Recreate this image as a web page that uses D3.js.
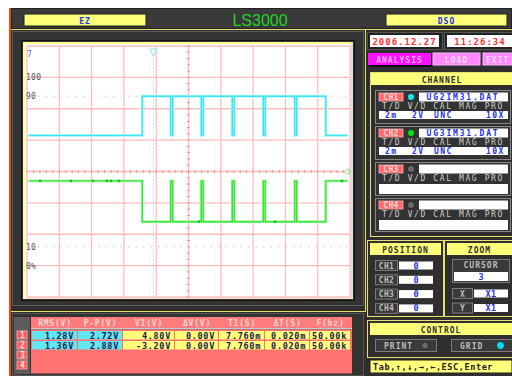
<!DOCTYPE html>
<html>
<head>
<meta charset="utf-8">
<script src="https://cdn.jsdelivr.net/npm/d3@7"></script>
<style>
  html, body { margin: 0; padding: 0; background: #fff; overflow: hidden; }
  svg { display: block; }
</style>
</head>
<body>
<svg id="scope" width="512" height="376"></svg>
<script>
// ---- Data -------------------------------------------------------------
const timeDomain = [-10, 10];   // ms, 2 ms/div over 10 divisions
const voltDomain = [-8, 8];     // V, 2 V/div over 8 divisions
const timeGrid = d3.range(-10, 10.001, 2);
const voltGrid = d3.range(-8, 8.001, 2);

// CH1 (cyan) step waveform: edge times (ms) and level held from each edge (V)
const ch1Time = [-9.9, -2.86, -1.10, -0.98, 0.79, 0.91, 2.71, 2.83, 4.63, 4.75, 6.58, 6.70, 8.50, 9.85];
const ch1Volt = [2.3, 4.8, 2.3, 4.8, 2.3, 4.8, 2.3, 4.8, 2.3, 4.8, 2.3, 4.8, 2.3, 2.3];
// CH2 (green) step waveform
const ch2Time = [-9.9, -2.86, -1.10, -0.98, 0.79, 0.91, 2.71, 2.83, 4.63, 4.75, 6.58, 6.70, 8.50, 9.85];
const ch2Volt = [-0.6, -3.2, -0.6, -3.2, -0.6, -3.2, -0.6, -3.2, -0.6, -3.2, -0.6, -3.2, -0.6, -0.6];
// sample markers drawn on the CH2 trace [ms, V]
const ch2Marks = [[-9.19, -0.6], [-7.28, -0.6], [-5.91, -0.6], [-5.05, -0.6], [-4.80, -0.6], [-4.30, -0.6], [0.65, -3.2], [5.36, -3.2], [9.50, -0.6]];

const triggerTime = -2.18;      // ms, cyan trigger cursor
const pctTicks = [100, 90, 10, 0];
const pctLabels = ["100", "90", "10", "0%"];

const measHeaders = ["RMS(V)", "P-P(V)", "V1(V)", "\u0394V(V)", "T1(S)", "\u0394T(S)", "F(hz)"];
const measCh1 = ["1.28V", "2.72V", "4.80V", "0.00V", "7.760m", "0.020m", "50.00k"];
const measCh2 = ["1.36V", "2.88V", "-3.20V", "0.00V", "7.760m", "0.020m", "50.00k"];
const measRows = ["1", "2", "3", "4"];

const channelNames = ["CH1", "CH2", "CH3", "CH4"];
const channelFiles = ["UG2IM31.DAT", "UG3IM31.DAT", "", ""];
const channelSettings = [["2m", "2V", "UNC", "10X"], ["2m", "2V", "UNC", "10X"], null, null];
const channelLeds = ["#20e4f0", "#10dd10", "#6a6a6a", "#6a6a6a"];
const settingHeads = "T/D V/D CAL MAG PRO";
const positionValues = ["0", "0", "0", "0"];
const zoomCursor = "3";
const zoomXY = [["X", "X1"], ["Y", "X1"]];
const dateText = "2006.12.27";
const timeText = "11:26:34";
const keyHelp = "Tab,\u2191,\u2193,\u2192,\u2190,ESC,Enter";

// ---- Palette / helpers --------------------------------------------------
const C = {
  bg: "#2f2f2f", yellow: "#ffff7a", yline: "#e6e070", grid: "#ffbcbc",
  gridDark: "#f29090", cyan: "#3fe6f2", green: "#3ae23a", blue: "#2030f0",
  red: "#ff3030", pink: "#ff7272", boxStroke: "#7a7a7a", gray: "#cfcfcf"
};
const MONO = "'DejaVu Sans Mono', 'Liberation Mono', monospace";

const svg = d3.select("#scope");

function rect(g, x, y, w, h, fill, stroke, sw) {
  return g.append("rect").attr("x", x).attr("y", y).attr("width", w).attr("height", h)
    .attr("fill", fill).attr("stroke", stroke || "none").attr("stroke-width", sw || 1);
}
function label(g, x, y, s, fill, o = {}) {
  return g.append("text").attr("x", x).attr("y", y).text(s)
    .attr("fill", fill)
    .attr("font-family", o.family || MONO)
    .attr("font-weight", o.weight || "bold")
    .attr("font-size", o.size || 9)
    .attr("letter-spacing", o.ls == null ? 1 : o.ls)
    .attr("text-anchor", o.anchor || "middle");
}

// ---- Window background ---------------------------------------------------
rect(svg, 11, 8, 501, 368, C.bg);
rect(svg, 9, 8, 2, 368, "#f04a10");

// title bar
rect(svg, 11.5, 8.5, 500, 20, "#3a3a3a", "#222");
rect(svg, 24, 14, 122, 12, C.yellow, "#1e1e1e");
label(svg, 85, 23.5, "EZ", C.blue, { size: 8 });
rect(svg, 386, 14, 121, 12, C.yellow, "#1e1e1e");
label(svg, 446.5, 23.5, "DSO", C.blue, { size: 8 });
label(svg, 260, 26, "LS3000", "#22d422", { family: "'Liberation Sans', Arial, sans-serif", weight: "normal", size: 16, ls: 0 });
svg.append("line").attr("x1", 11).attr("x2", 512).attr("y1", 29.5).attr("y2", 29.5).attr("stroke", C.yline);

// ---- Waveform display ----------------------------------------------------
const plot = svg.append("g");
rect(plot, 12.5, 31.5, 351, 274, "#333", "#5a5a5a");
rect(plot, 21.5, 40.5, 333, 260, "none", "#141414");
rect(plot, 23, 42, 330, 257, "#fff");
rect(plot, 23, 42, 2, 257, "#ffff90");
rect(plot, 23, 42, 330, 2, "#ffff90");
rect(plot, 351, 42, 2, 257, "#dcdcdc");
rect(plot, 23, 297.5, 330, 1.5, "#ecebc8");

const x = d3.scaleLinear().domain(timeDomain).range([27, 350]);
const y = d3.scaleLinear().domain(voltDomain).range([297, 46]);
const pct = d3.scaleLinear().domain([0, 100]).range([y(-6), y(6)]);

// graticule
plot.append("g").selectAll("line").data(timeGrid).join("line")
  .attr("x1", d => x(d)).attr("x2", d => x(d)).attr("y1", y(8)).attr("y2", y(-8))
  .attr("stroke", C.grid).attr("stroke-width", 1.3);
plot.append("g").selectAll("line").data(voltGrid).join("line")
  .attr("x1", x(-10)).attr("x2", x(10)).attr("y1", d => y(d)).attr("y2", d => y(d))
  .attr("stroke", C.grid).attr("stroke-width", 1.3);

// minor ticks along the centre axes
plot.append("g").selectAll("line").data(d3.range(-10, 10.001, 0.4)).join("line")
  .attr("x1", d => x(d)).attr("x2", d => x(d)).attr("y1", y(0) - 1.5).attr("y2", y(0) + 1.5)
  .attr("stroke", C.gridDark).attr("stroke-width", 1);
plot.append("g").selectAll("line").data(d3.range(-8, 8.001, 0.4)).join("line")
  .attr("x1", x(0) - 1.5).attr("x2", x(0) + 1.5).attr("y1", d => y(d)).attr("y2", d => y(d))
  .attr("stroke", C.gridDark).attr("stroke-width", 1);

// 90 % / 10 % reference lines
plot.append("g").selectAll("line").data([90, 10]).join("line")
  .attr("x1", 38).attr("x2", x(10)).attr("y1", d => pct(d)).attr("y2", d => pct(d))
  .attr("stroke", "#e2b4b4").attr("stroke-width", 1).attr("stroke-dasharray", "1.5,6");

// percentage labels
plot.append("g").selectAll("text").data(pctTicks).join("text")
  .attr("x", 26).attr("y", d => pct(d) + 3)
  .text((d, i) => pctLabels[i])
  .attr("fill", "#555").attr("font-family", MONO).attr("font-size", 8).attr("letter-spacing", 0.3);

label(plot, 27, 57, "7", "#5060ff", { size: 8, anchor: "start", weight: "normal" });

// trigger cursor
plot.append("line").attr("x1", x(triggerTime)).attr("x2", x(triggerTime)).attr("y1", y(8)).attr("y2", y(-8))
  .attr("stroke", "#a8eef4").attr("stroke-width", 1).attr("stroke-dasharray", "1.5,2");
plot.append("path")
  .attr("d", `M${x(triggerTime) - 3.5},49 L${x(triggerTime) + 3.5},49 L${x(triggerTime)},56 Z`)
  .attr("fill", "#fff").attr("stroke", "#7fe8f0").attr("stroke-width", 1);

// traces
const trace = (times, volts) => d3.line().curve(d3.curveStepAfter)
  .x((d, i) => x(times[i])).y((d, i) => y(volts[i]))(times);

[[ch1Time, ch1Volt, C.cyan, "#b8f6fa"], [ch2Time, ch2Volt, C.green, "#b8f6b8"]].forEach(([t, v, col, glow]) => {
  plot.append("path").attr("d", trace(t, v)).attr("fill", "none")
    .attr("stroke", glow).attr("stroke-width", 3);
  plot.append("path").attr("d", trace(t, v)).attr("fill", "none")
    .attr("stroke", col).attr("stroke-width", 1.4);
});
plot.append("g").selectAll("rect").data(ch2Marks).join("rect")
  .attr("x", d => x(d[0]) - 1.2).attr("y", d => y(d[1]) - 1.2)
  .attr("width", 2.4).attr("height", 2.4).attr("fill", "#16c016");

// channel-2 level marker on the right edge
plot.append("path")
  .attr("d", `M${x(10) - 1},${y(0) - 3} L${x(10) - 6},${y(0)} L${x(10) - 1},${y(0) + 3} Z`)
  .attr("fill", "#fff").attr("stroke", "#8fe88f").attr("stroke-width", 1);

// ---- Measurement table ---------------------------------------------------
const tbl = svg.append("g");
svg.append("line").attr("x1", 11).attr("x2", 366).attr("y1", 311.5).attr("y2", 311.5).attr("stroke", C.yline);
rect(tbl, 12.5, 313.5, 351, 62, "#333", "#555");
rect(tbl, 14, 317, 16, 57, "#5c5c5c");
rect(tbl, 31, 317, 321, 11, "#ff7c7c");
rect(tbl, 31, 328, 321, 1.5, "#c8c8c8");
rect(tbl, 31, 329.5, 321, 44, C.pink);

const colEdges = [32, 78, 123, 175, 219, 265, 310, 351];
const colX = d3.scaleOrdinal().domain(measHeaders).range(colEdges.slice(0, -1));
measHeaders.forEach((h, i) => {
  label(tbl, (colEdges[i] + colEdges[i + 1]) / 2, 326, h, "#ffd6d6", { size: 8, ls: 0.8 });
});
measRows.forEach((r, i) => {
  const yy = 331 + i * 10;
  rect(tbl, 17, yy, 10, 8, "#ff5a5a", "#ffb0b0", 0.8);
  label(tbl, 22.5, yy + 7, r, "#ffe0e0", { size: 8, ls: 0 });
});
[measCh1, measCh2].forEach((row, r) => {
  const yy = 331 + r * 10;
  row.forEach((v, i) => {
    const x0 = colX(measHeaders[i]), w = colEdges[i + 1] - colEdges[i] - 1;
    rect(tbl, x0, yy, w, 8.5, i < 2 ? "#62e6f0" : C.yellow);
    label(tbl, x0 + w - 3, yy + 7.5, v, "#202050", { size: 8.5, ls: 0.7, anchor: "end" });
  });
});

// ---- Right side panel -----------------------------------------------------
const side = svg.append("g");
svg.append("line").attr("x1", 365.5).attr("x2", 365.5).attr("y1", 30).attr("y2", 312).attr("stroke", C.yline);

// date & time
rect(side, 367.5, 32.5, 75, 17, "#222", "#555");
rect(side, 370, 35, 69, 12, "#fff");
label(side, 404.5, 44.5, dateText, C.red, { size: 9 });
rect(side, 444.5, 32.5, 68, 17, "#222", "#555");
rect(side, 447, 35, 65, 12, "#fff");
label(side, 480, 44.5, timeText, C.red, { size: 9 });

// menu buttons
rect(side, 369, 55, 63, 12, "#111");
rect(side, 368, 53, 63, 12, "#ff10ff");
label(side, 399.5, 62.5, "ANALYSIS", "#ffb0ff", { size: 8 });
rect(side, 433, 53, 47, 12, "#ff88ff", "#ffb8ff");
label(side, 456.5, 62.5, "LOAD", "#ffd8ff", { size: 8 });
rect(side, 483, 53, 29, 12, "#ff88ff", "#ffb8ff");
label(side, 486, 62.5, "EXIT", "#ffd8ff", { size: 8, anchor: "start" });

// channel section
rect(side, 370.5, 72.5, 142, 164, C.bg, C.yline);
rect(side, 371, 73, 141, 12, C.yellow);
label(side, 442, 82.5, "CHANNEL", "#303030", { size: 8 });

channelNames.forEach((name, i) => {
  const y0 = 90 + i * 36;
  rect(side, 375.5, y0 + 0.5, 135, 33, "#333", "#888");
  rect(side, 379, y0 + 3, 24, 8, "#ff6a6a", "#ffb4b4", 0.8);
  label(side, 391, y0 + 10, name, "#ffd2d2", { size: 8, ls: 0.3 });
  side.append("circle").attr("cx", 411).attr("cy", y0 + 7).attr("r", 3.6)
    .attr("fill", channelLeds[i]).attr("stroke", "#222").attr("stroke-width", 0.8);
  rect(side, 419, y0 + 2.5, 89, 9, "#fff");
  if (channelFiles[i]) label(side, 463, y0 + 10, channelFiles[i], C.blue, { size: 8, ls: 1.8 });
  label(side, 382, y0 + 18.5, settingHeads, C.gray, { size: 8, anchor: "start", ls: 1.6, weight: "normal" });
  const s = channelSettings[i];
  rect(side, 379, y0 + (s ? 21 : 22), 129, s ? 8 : 10, "#fff");
  if (s) {
    label(side, 385, y0 + 28, s[0], C.blue, { size: 8, anchor: "start", ls: 1.4 });
    label(side, 412, y0 + 28, s[1], C.blue, { size: 8, anchor: "start", ls: 1.4 });
    label(side, 434, y0 + 28, s[2], C.blue, { size: 8, anchor: "start", ls: 1.4 });
    label(side, 486, y0 + 28, s[3], C.blue, { size: 8, anchor: "start", ls: 1.4 });
  }
});

// position & zoom
rect(side, 367.5, 240.5, 76, 76, C.bg, C.yline);
rect(side, 370, 243, 71, 12, C.yellow);
label(side, 405.5, 252.5, "POSITION", "#303030", { size: 8 });
channelNames.forEach((name, i) => {
  const y0 = 260 + i * 14.3;
  rect(side, 375.5, y0 + 0.5, 22, 10, "#3a3a3a", C.boxStroke);
  label(side, 386.5, y0 + 8.5, name, "#bdbdbd", { size: 8, ls: 0.3 });
  rect(side, 399, y0 + 1.5, 34, 8, "#fff");
  label(side, 416, y0 + 8.5, positionValues[i], C.blue, { size: 8.5, ls: 0 });
});
rect(side, 444.5, 240.5, 68, 76, C.bg, C.yline);
rect(side, 447, 243, 65, 12, C.yellow);
label(side, 479.5, 252.5, "ZOOM", "#303030", { size: 8 });
rect(side, 452.5, 259.5, 57, 23, "#3a3a3a", C.boxStroke);
label(side, 481, 268, "CURSOR", "#bdbdbd", { size: 8 });
rect(side, 454, 272, 54, 9, "#fff");
label(side, 481, 279.5, zoomCursor, C.blue, { size: 8.5, ls: 0 });
zoomXY.forEach(([k, v], i) => {
  const y0 = 288 + i * 14.5;
  rect(side, 452.5, y0 + 0.5, 20, 10, "#3a3a3a", C.boxStroke);
  label(side, 462.5, y0 + 8.5, k, "#bdbdbd", { size: 8, ls: 0 });
  rect(side, 474, y0 + 1.5, 34, 8, "#fff");
  label(side, 491, y0 + 8.5, v, C.blue, { size: 8.5, ls: 0.5 });
});

// control
rect(side, 367.5, 320.5, 145, 37, C.bg, C.yline);
rect(side, 370, 323, 142, 12, C.yellow);
label(side, 441, 332.5, "CONTROL", "#303030", { size: 8 });
rect(side, 375.5, 339.5, 61, 12, "#3a3a3a", C.boxStroke);
label(side, 384, 348.5, "PRINT", "#bdbdbd", { size: 8, anchor: "start" });
side.append("circle").attr("cx", 425).attr("cy", 345.5).attr("r", 3.5).attr("fill", "#6a6a6a").attr("stroke", "#222").attr("stroke-width", 0.8);
rect(side, 451.5, 339.5, 62, 12, "#3a3a3a", C.boxStroke);
label(side, 460, 348.5, "GRID", "#bdbdbd", { size: 8, anchor: "start" });
side.append("circle").attr("cx", 500.5).attr("cy", 345.5).attr("r", 4).attr("fill", "#10d8f0").attr("stroke", "#222").attr("stroke-width", 0.8);

// key help bar
rect(side, 370, 360, 142, 13, C.yellow, "#222");
label(side, 373, 370, keyHelp, "#202020", { size: 8.5, anchor: "start", ls: 0.6 });
</script>
</body>
</html>
